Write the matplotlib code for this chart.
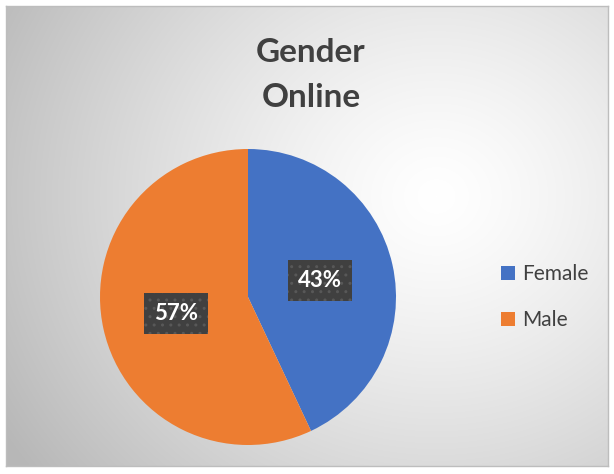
import numpy as np
import matplotlib
matplotlib.use("Agg")
import matplotlib.pyplot as plt

categories = ["Female", "Male"]
values = [43, 57]
colors = ["#4472C4", "#ED7D31"]
title_lines = ["Gender", "Online"]

W, H = 614, 474
fig = plt.figure(figsize=(W/100, H/100), dpi=100)
fig.patch.set_facecolor("white")

# gradient background
bg = fig.add_axes([6/W, 1-466/H, 602/W, 460/H])
yy, xx = np.mgrid[0:460, 0:602]
cx, cy = 430, 190
d = np.sqrt(((xx-cx)/420.0)**2 + ((yy-cy)/380.0)**2)
v = 1.0 - 0.22*np.clip(d, 0, 1.2)**1.3
img = np.dstack([v, v, v])
bg.imshow(np.clip(img, 0, 1), aspect="auto", extent=[0, 1, 0, 1])
bg.set_xticks([]); bg.set_yticks([])
for s in bg.spines.values():
    s.set_color("#bdbdbd"); s.set_linewidth(1)

fontfam = ["Lato", "DejaVu Sans"]
for line, base in zip(title_lines, [62, 107]):
    fig.text(311/W, 1-base/H, line, ha="center", va="baseline", fontsize=24,
             fontweight="bold", color="#404040", family=fontfam)

r = 148
ax = fig.add_axes([(248-r)/W, 1-(297+r)/H, 2*r/W, 2*r/H])
wedges, _ = ax.pie(values, colors=colors, startangle=90, counterclock=False,
                   wedgeprops=dict(linewidth=0))
ax.set_aspect("auto")
ax.set_xlim(-1, 1); ax.set_ylim(-1, 1)
ax.axis("off")

# data labels
cum = np.cumsum([0] + values)
label_r = 0.50
for i, val in enumerate(values):
    mid = 90 - 360*(cum[i] + val/2)/100.0
    ang = np.deg2rad(mid)
    x, y = label_r*np.cos(ang), label_r*np.sin(ang)
    ax.text(x, y, f"{val}%", ha="center", va="center", fontsize=16,
            fontweight="bold", color="white", family=fontfam,
            bbox=dict(boxstyle="square,pad=0.45", facecolor="#404040",
                      edgecolor="#585858", linewidth=0, hatch=".."))

leg = fig.legend(wedges, categories, loc="center left",
                 bbox_to_anchor=(482/W, 1-297/H), frameon=False,
                 prop=dict(family=fontfam, size=15), labelcolor="#404040",
                 handlelength=0.67, handleheight=0.67, handletextpad=0.34,
                 labelspacing=1.25)

fig.savefig("out.png", dpi=100)
